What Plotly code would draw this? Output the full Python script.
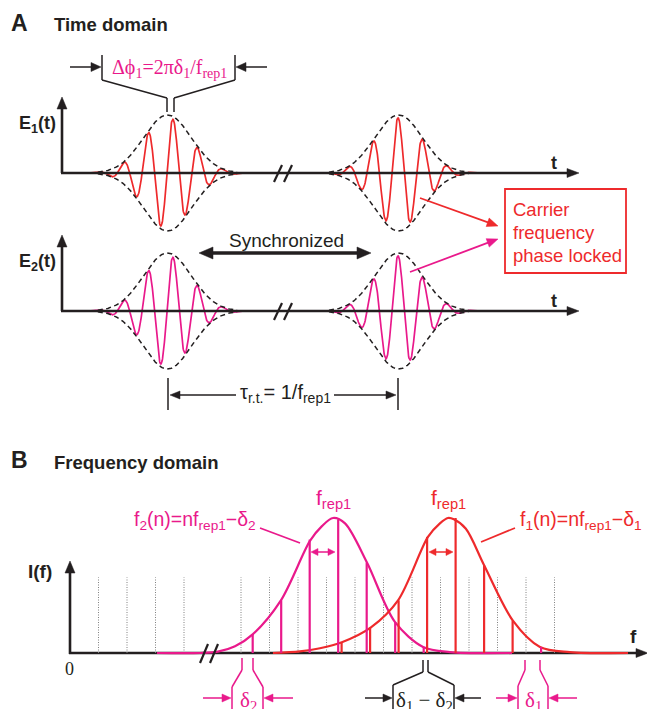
import numpy as np
import plotly.graph_objects as go
from math import hypot

# ---------------- data ----------------
# Time domain: time measured in optical cycles of the carrier
pulse_env_centers = [4.26, 13.60]     # envelope maxima of the two pulses
pulse_carrier_peaks = [4.485, 13.576]  # carrier crest nearest each envelope maximum
pulse_sigma = 0.97                     # envelope width (optical cycles)
carrier_amp = 0.95                     # carrier crest relative to envelope

# Frequency domain: frequency in units of f_rep1, intensity relative to peak
grid_n = [1, 2, 3, 4, 6, 7, 8, 9, 10, 11, 12, 13, 14, 15, 16, 17]
grid_top = 0.56
comb2_n = [6, 7, 8, 9, 10, 11, 12]
comb2_I = [0.14, 0.39, 0.84, 0.99, 0.67, 0.23, 0.045]
delta2 = 0.41
comb1_n = [9, 10, 11, 12, 13, 14, 15, 16]
comb1_I = [0.08, 0.19, 0.39, 0.86, 1.0, 0.65, 0.24, 0.045]
comb1_color = ["r", "r", "r", "r", "r", "r", "r", "m"]
delta1 = 0.53
env2_f = [3.05, 4.56, 5.19, 5.79, 6.42, 7.40, 8.42, 8.84, 9.23, 9.65, 10.42, 11.40, 12.39, 13.33, 15.51]
env2_I = [0.0, 0.0, 0.01, 0.05, 0.14, 0.39, 0.83, 0.94, 1.0, 0.96, 0.67, 0.23, 0.045, 0.007, 0.0]
env1_f = [7.12, 8.07, 8.77, 9.54, 10.56, 11.51, 12.56, 12.98, 13.26, 13.47, 13.89, 14.53, 15.54, 16.49, 17.54, 19.58]
env1_I = [0.0, 0.012, 0.035, 0.08, 0.19, 0.39, 0.86, 0.96, 1.0, 0.99, 0.92, 0.65, 0.24, 0.045, 0.007, 0.0]

# ---------------- styling ----------------
RED = "#EE2A2C"
MAG = "#E9198B"
BLK = "#231F20"
GRAY = "#808080"
SANS = "Liberation Sans, Arial, Helvetica, sans-serif"
SERIF = "Liberation Serif, Times New Roman, serif"
W, H = 647, 709

fig = go.Figure()
shapes = []
annos = []


def seg(x0, y0, x1, y1, color=BLK, w=1.5, layer="above"):
    shapes.append(dict(type="line", xref="x", yref="y", x0=x0, y0=y0, x1=x1, y1=y1,
                       layer=layer, line=dict(color=color, width=w)))


def poly(pts, color=BLK, w=1.5):
    for a, b in zip(pts[:-1], pts[1:]):
        seg(a[0], a[1], b[0], b[1], color, w)


def tri(xt, yt, ux, uy, L, hw, color):
    bx, by = xt - ux * L, yt - uy * L
    px, py = -uy, ux
    path = (f"M{xt},{yt} L{bx + px * hw},{by + py * hw} "
            f"L{bx - px * hw},{by - py * hw} Z")
    shapes.append(dict(type="path", xref="x", yref="y", path=path, fillcolor=color,
                       line=dict(color=color, width=0.5), layer="above"))


def arrow(x0, y0, x1, y1, color=BLK, w=1.5, L=9, hw=4, layer="above"):
    d = hypot(x1 - x0, y1 - y0)
    ux, uy = (x1 - x0) / d, (y1 - y0) / d
    seg(x0, y0, x1 - ux * L * 0.7, y1 - uy * L * 0.7, color, w, layer)
    tri(x1, y1, ux, uy, L, hw, color)


def darrow(x0, y0, x1, y1, color=BLK, w=1.5, L=9, hw=4):
    d = hypot(x1 - x0, y1 - y0)
    ux, uy = (x1 - x0) / d, (y1 - y0) / d
    seg(x0 + ux * L * 0.7, y0 + uy * L * 0.7, x1 - ux * L * 0.7, y1 - uy * L * 0.7, color, w)
    tri(x1, y1, ux, uy, L, hw, color)
    tri(x0, y0, -ux, -uy, L, hw, color)


def text(x, y, s, size=18, color=BLK, family=SANS, bold=False, xanchor="center"):
    if bold:
        s = f"<b>{s}</b>"
    annos.append(dict(x=x, y=y, xref="x", yref="y", text=s, showarrow=False,
                      xanchor=xanchor, yanchor="middle",
                      font=dict(size=size, color=color, family=family)))


# ---------------- time-domain pulses ----------------
for yax, col in (("y2", RED), ("y3", MAG)):
    for c, tp in zip(pulse_env_centers, pulse_carrier_peaks):
        t = np.linspace(c - 3.3 * pulse_sigma, c + 3.3 * pulse_sigma, 500)
        env = np.exp(-(t - c) ** 2 / (2 * pulse_sigma ** 2))
        fig.add_trace(go.Scatter(x=t, y=carrier_amp * env * np.cos(2 * np.pi * (t - tp)),
                                 xaxis="x2", yaxis=yax, mode="lines",
                                 line=dict(color=col, width=1.7), hoverinfo="skip"))
        te = np.linspace(c - 2.9 * pulse_sigma, c + 2.9 * pulse_sigma, 200)
        ee = np.exp(-(te - c) ** 2 / (2 * pulse_sigma ** 2))
        for sgn in (1, -1):
            fig.add_trace(go.Scatter(x=te, y=sgn * ee, xaxis="x2", yaxis=yax, mode="lines",
                                     line=dict(color=BLK, width=1.5, dash="5px,3.5px"),
                                     hoverinfo="skip"))

# ---------------- frequency-domain combs ----------------
gx, gy = [], []
for n in grid_n:
    gx += [n, n, None]
    gy += [0, grid_top, None]
fig.add_trace(go.Scatter(x=gx, y=gy, xaxis="x3", yaxis="y4", mode="lines",
                         line=dict(color=GRAY, width=1, dash="1px,1.5px"), hoverinfo="skip"))

fig.add_trace(go.Scatter(x=env2_f, y=env2_I, xaxis="x3", yaxis="y4", mode="lines",
                         line=dict(color=MAG, width=2.2, shape="spline", smoothing=0.9),
                         hoverinfo="skip"))
fig.add_trace(go.Scatter(x=env1_f, y=env1_I, xaxis="x3", yaxis="y4", mode="lines",
                         line=dict(color=RED, width=2.2, shape="spline", smoothing=0.9),
                         hoverinfo="skip"))

mx, my = [], []
for n, h in zip(comb2_n, comb2_I):
    mx += [n + delta2, n + delta2, None]
    my += [0, h, None]
rx, ry = [], []
for n, h, cc in zip(comb1_n, comb1_I, comb1_color):
    if cc == "m":
        mx += [n + delta1, n + delta1, None]
        my += [0, h, None]
    else:
        rx += [n + delta1, n + delta1, None]
        ry += [0, h, None]
fig.add_trace(go.Scatter(x=rx, y=ry, xaxis="x3", yaxis="y4", mode="lines",
                         line=dict(color=RED, width=2.2), hoverinfo="skip"))
fig.add_trace(go.Scatter(x=mx, y=my, xaxis="x3", yaxis="y4", mode="lines",
                         line=dict(color=MAG, width=2.2), hoverinfo="skip"))

# ---------------- panel A decorations ----------------
text(19, 23, "A", 23, bold=True)
text(52, 24, "Time domain", 18.5, bold=True, xanchor="left")

for y0, ytop, lab in ((173, 97, "E<sub>1</sub>(t)"), (311, 235, "E<sub>2</sub>(t)")):
    seg(62, y0, 62, ytop + 8, BLK, 2.6)
    tri(62, ytop, 0, -1, 12, 5, BLK)
    seg(61, y0, 570, y0, BLK, 2.6)
    tri(579, y0, 1, 0, 12, 4.5, BLK)
    seg(274, y0 + 9, 282, y0 - 8, BLK, 2.2)
    seg(284, y0 + 9, 292, y0 - 8, BLK, 2.2)
    text(37, y0 - 49, lab, 18, bold=True)
    text(554, y0 - 10, "t", 18, bold=True)

# phase-offset bracket
poly([(102, 55), (102, 80), (167, 98), (167, 112)])
poly([(235, 55), (235, 80), (174, 98), (174, 112)])
arrow(70, 67, 101, 67, BLK, 1.5, 10, 4.5)
arrow(267, 67, 236, 67, BLK, 1.5, 10, 4.5)
text(169, 68, "Δϕ<sub>1</sub>=2πδ<sub>1</sub>/f<sub>rep1</sub>", 20, MAG, SERIF)

# synchronized
darrow(199, 253, 371, 253, BLK, 3.5, 14, 6)
text(286, 240, "Synchronized", 19)

# carrier frequency phase locked box
shapes.append(dict(type="rect", xref="x", yref="y", x0=505, x1=626, y0=189, y1=273,
                   line=dict(color=RED, width=1.8), layer="above"))
text(511, 209, "Carrier", 18.5, RED, xanchor="left")
text(511, 232, "frequency", 18.5, RED, xanchor="left")
text(511, 255, "phase locked", 18.5, RED, xanchor="left")
arrow(420, 198, 498, 226, RED, 1.8, 11, 4.5)
arrow(410, 272, 498, 239, MAG, 1.8, 11, 4.5)

# round trip time
seg(168, 378, 168, 410)
seg(398, 378, 398, 410)
arrow(236, 395, 170, 395, BLK, 1.5, 10, 4)
arrow(334, 395, 396, 395, BLK, 1.5, 10, 4)
text(285, 393, "τ<sub>r.t.</sub>= 1/f<sub>rep1</sub>", 20)

# ---------------- panel B decorations ----------------
text(19, 460, "B", 23, bold=True)
text(52, 462, "Frequency domain", 18.5, bold=True, xanchor="left")

seg(70, 654, 70, 570, BLK, 2.6, layer="below")
tri(70, 561, 0, -1, 12, 5, BLK)
seg(69, 653, 640, 653, BLK, 2.6, layer="below")
tri(648, 653, 1, 0, 12, 4.5, BLK)
seg(200, 663, 208, 644, BLK, 2.2)
seg(210, 663, 218, 644, BLK, 2.2)
text(40, 571, "I(f)", 19, bold=True)
text(633, 636, "f", 19, bold=True)
text(69, 669, "0", 18, BLK, SERIF)

darrow(311, 552, 335, 552, MAG, 1.5, 7, 3.5)
darrow(429, 552, 453, 552, RED, 1.5, 7, 3.5)
text(333, 499, "f<sub>rep1</sub>", 21, MAG)
text(448, 499, "f<sub>rep1</sub>", 21, RED)
text(195, 520, "f<sub>2</sub>(n)=nf<sub>rep1</sub>−δ<sub>2</sub>", 19.5, MAG)
text(581, 520, "f<sub>1</sub>(n)=nf<sub>rep1</sub>−δ<sub>1</sub>", 19.5, RED)
seg(260, 528, 300, 543, MAG, 1.8)
seg(515, 528, 481, 542, RED, 1.8)

# delta brackets
poly([(242, 658), (242, 670), (232, 687), (232, 712)], MAG)
poly([(253, 658), (253, 670), (263, 687), (263, 712)], MAG)
arrow(203, 698, 231, 698, MAG, 1.5, 9, 4)
arrow(293, 698, 264, 698, MAG, 1.5, 9, 4)
text(248, 701, "δ<sub>2</sub>", 21, MAG, SERIF)

poly([(423, 660), (423, 672), (393, 685), (393, 712)], BLK)
poly([(428, 660), (428, 672), (454, 685), (454, 712)], BLK)
arrow(365, 698, 392, 698, BLK, 1.5, 9, 4)
arrow(481, 698, 455, 698, BLK, 1.5, 9, 4)
text(424, 701, "δ<sub>1</sub> − δ<sub>2</sub>", 21, BLK, SERIF)

poly([(525, 660), (525, 670), (518, 686), (518, 712)], MAG)
poly([(540, 660), (540, 670), (548, 686), (548, 712)], MAG)
arrow(496, 698, 517, 698, MAG, 1.5, 9, 4)
arrow(577, 698, 549, 698, MAG, 1.5, 9, 4)
text(533, 701, "δ<sub>1</sub>", 21, MAG, SERIF)

# ---------------- axes / layout ----------------
P = 24.75   # px per optical cycle
F = 28.5    # px per f_rep
hidden = dict(visible=False, showgrid=False, zeroline=False, fixedrange=True)
fig.update_layout(
    width=W, height=H, autosize=False,
    margin=dict(l=0, r=0, t=0, b=0, pad=0),
    paper_bgcolor="white", plot_bgcolor="white", showlegend=False,
    xaxis=dict(range=[0, W], domain=[0, 1], **hidden),
    yaxis=dict(range=[H, 0], domain=[0, 1], **hidden),
    xaxis2=dict(range=[-62 / P, (W - 62) / P], overlaying="x", **hidden),
    yaxis2=dict(range=[-(H - 173) / 58, 173 / 58], overlaying="y", **hidden),
    yaxis3=dict(range=[-(H - 311) / 58, 311 / 58], overlaying="y", **hidden),
    xaxis3=dict(range=[-70 / F, (W - 70) / F], overlaying="x", **hidden),
    yaxis4=dict(range=[-(H - 653) / 135, 653 / 135], overlaying="y", **hidden),
    shapes=shapes, annotations=annos,
)
# invisible anchor trace for base axes
fig.add_trace(go.Scatter(x=[0], y=[0], mode="markers", marker=dict(opacity=0),
                         hoverinfo="skip", xaxis="x", yaxis="y"))

fig.write_html("out.html", config=dict(displayModeBar=False, staticPlot=True),
               post_script="document.body.style.margin='0';")
